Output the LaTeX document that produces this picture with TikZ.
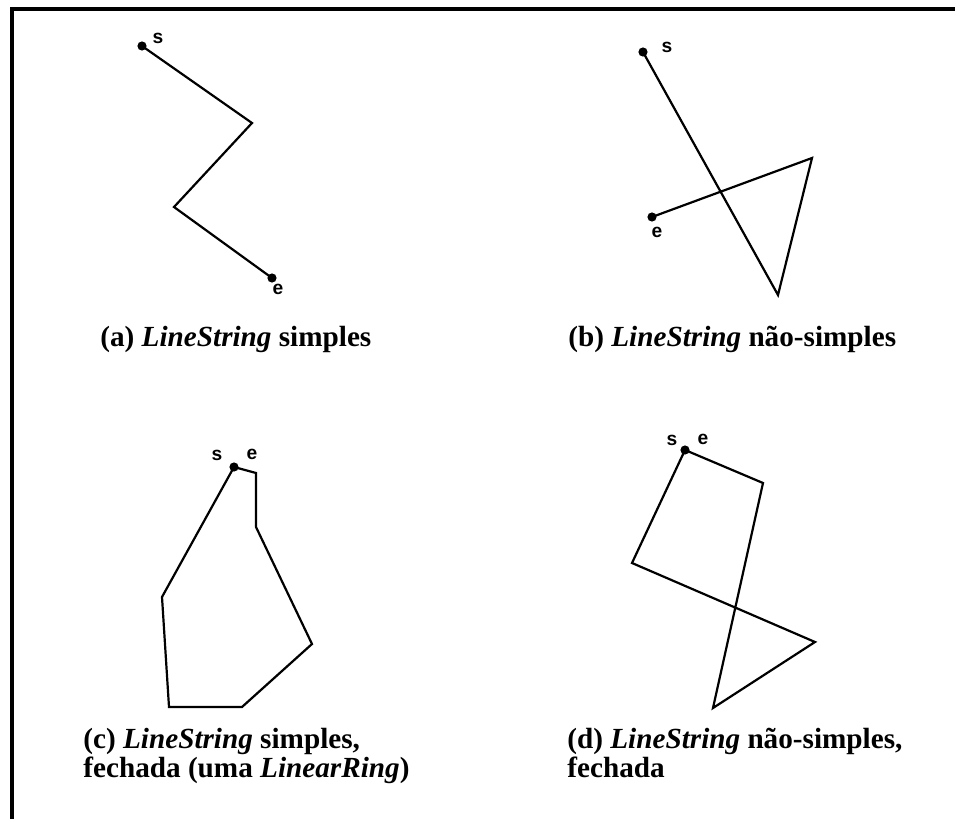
\documentclass[tikz,border=0pt]{standalone}
\usepackage{fontspec}
\setmainfont{Liberation Serif}
\setsansfont{Liberation Sans}
\usetikzlibrary{positioning}

\begin{document}
\begin{tikzpicture}[
  x=0.5pt,y=-0.5pt,
  geom/.style={line width=1.1pt,line join=miter},
  frame/.style={line width=2pt},
  endpt/.style={circle,fill,inner sep=0pt,minimum size=4.6pt},
  tag/.style={font=\sffamily\bfseries\fontsize{9.6}{10}\selectfont,inner sep=0pt},
  caption/.style={font=\bfseries\fontsize{14.6}{15.5}\selectfont,anchor=base west,inner sep=0pt}
]
\useasboundingbox (0,0) rectangle (955,819);
\draw[frame] (11.5,820) -- (11.5,9) -- (956,9);

\node[endpt] (as) at (142,46) {};
\coordinate (a1) at (252,123);
\coordinate (a2) at (174,207);
\node[endpt] (ae) at (272,278) {};
\draw[geom] (as.center) -- (a1) -- (a2) -- (ae.center);
\node[tag] (aslabel) at (158,38) {s};
\node[tag] (aelabel) at (278,289) {e};

\node[endpt] (bs) at (643,52) {};
\coordinate (b1) at (778,295);
\coordinate (b2) at (812,158);
\node[endpt] (be) at (652,217) {};
\draw[geom] (bs.center) -- (b1) -- (b2) -- (be.center);
\node[tag] (bslabel) at (667,47) {s};
\node[tag] (belabel) at (657,232) {e};

\node[endpt] (cs) at (234,467) {};
\coordinate (c1) at (256,473);
\coordinate (c2) at (256,527);
\coordinate (c3) at (312,644);
\coordinate (c4) at (242,707);
\coordinate (c5) at (169,707);
\coordinate (c6) at (162,597);
\draw[geom] (cs.center) -- (c1) -- (c2) -- (c3) -- (c4) -- (c5) -- (c6) -- cycle;
\node[tag] (cslabel) at (217,455) {s};
\node[tag] (celabel) at (252,454) {e};

\node[endpt] (ds) at (685,450) {};
\coordinate (d1) at (763,483);
\coordinate (d2) at (713,708);
\coordinate (d3) at (815,642);
\coordinate (d4) at (632,563);
\draw[geom] (ds.center) -- (d1) -- (d2) -- (d3) -- (d4) -- cycle;
\node[tag] (dslabel) at (672,440) {s};
\node[tag] (delabel) at (703,439) {e};

\node[caption] (capa) at (100,346) {(a) \textit{LineString} simples};
\node[caption] (capb) at (568,346) {(b) \textit{LineString} não-simples};
\node[caption] (capc) at (83,748) {(c) \textit{LineString} simples,};
\node[caption] (capc2) at (83,777) {fechada (uma \textit{LinearRing})};
\node[caption] (capd) at (567,748) {(d) \textit{LineString} não-simples,};
\node[caption] (capd2) at (567,777) {fechada};
\end{tikzpicture}
\end{document}
